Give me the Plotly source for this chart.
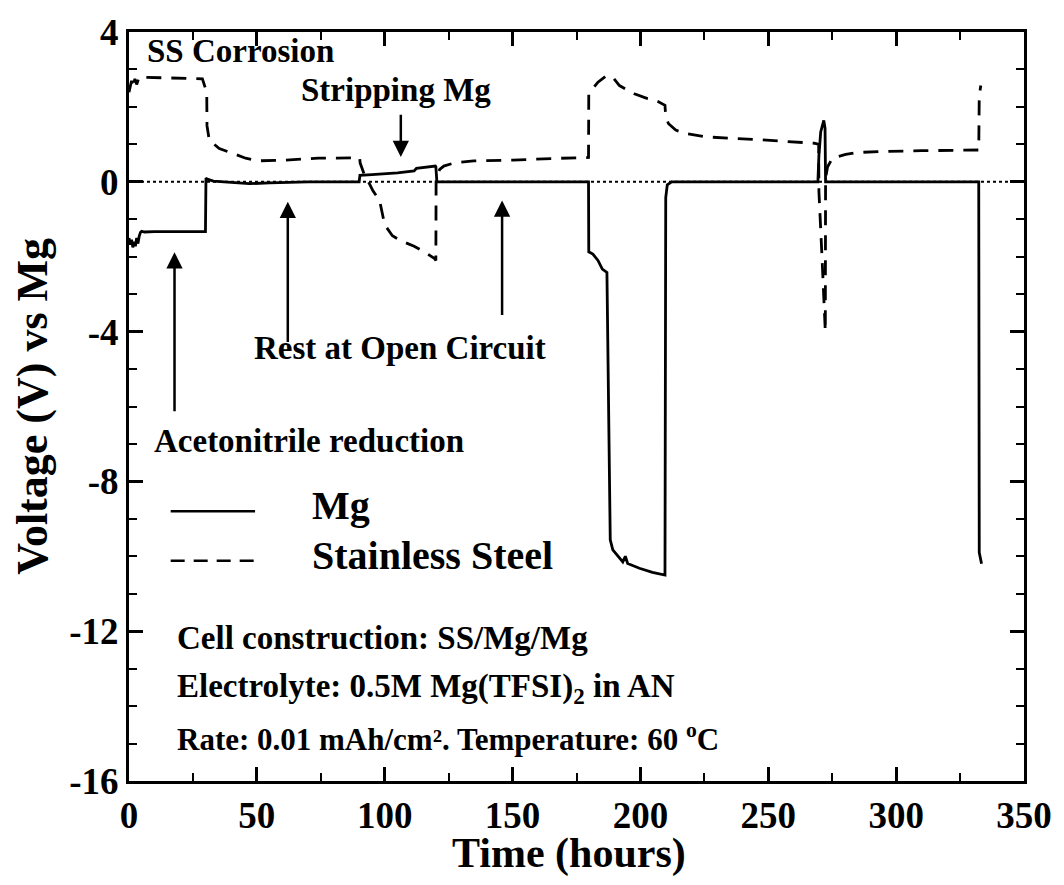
import plotly.graph_objects as go

# Time (hours) and voltage (V vs Mg) for the Mg electrode
mg_time = [0, 0.5, 1.0, 1.5, 2.0, 2.5, 3.0, 3.5, 4.0, 4.5, 5.0, 6.0, 10, 20, 29.9,
           30.1, 30.6, 33, 40, 47, 55, 70, 90.0,
           90.3, 95, 100, 105, 111.5, 112.4, 119.8, 120.0, 120.4, 150, 179.7,
           179.8, 181.4, 183.4, 185.1, 186.9, 187.3, 187.9, 188.2, 189.2, 191.8,
           193.1, 194.1, 195.0, 199.6, 204.7, 209.6, 209.9, 210.5, 212.2, 240,
           269.4, 269.8, 270.5, 271.7, 272.2, 272.4, 300, 332.3, 332.5, 333.4]
mg_volt = [-1.5, -1.68, -1.55, -1.75, -1.6, -1.72, -1.5, -1.65, -1.45, -1.35, -1.32, -1.34, -1.33, -1.33, -1.33,
           0.1, 0.07, 0.02, -0.02, -0.05, -0.03, 0.0, 0.0,
           0.17, 0.19, 0.21, 0.24, 0.29, 0.36, 0.42, 0.4, 0.0, 0.0, 0.0,
           -1.87, -1.93, -2.1, -2.33, -2.42, -4.85, -8.37, -9.56, -9.83, -10.06,
           -10.15, -10.0, -10.19, -10.32, -10.43, -10.5, -0.42, -0.08, 0.0, 0.0,
           0.0, 0.7, 1.33, 1.64, 1.43, 0.0, 0.0, 0.0, -9.9, -10.2]

# Time (hours) and voltage (V vs Mg) for the stainless steel electrode
ss_time = [0, 0.5, 1.0, 1.5, 2.3, 3.0, 4.0, 6.2, 15, 28.7, 30.4, 30.5, 31.4, 35.3, 40.5,
           45.6, 50.8, 61.2, 74.1, 90.2, 90.4, 92, 94, 95.4, 98, 99.2, 100, 103,
           106.2, 111.5, 115, 119.5, 120.0, 120.1, 121.5, 123.1, 127, 134.8, 150,
           165, 179.7, 179.8, 183.4, 186.6, 189.2, 191.8, 195.0, 197.6, 202.8,
           206.7, 209.6, 209.9, 211, 213.8, 217.7, 225.4, 245, 260, 268, 269.7,
           269.8, 271.0, 272.3, 272.4, 273.2, 275.1, 280.3, 284.2, 290.1, 294,
           310, 332.3, 332.5, 333.1]
ss_volt = [2.39, 2.55, 2.7, 2.5, 2.75, 2.6, 2.8, 2.79, 2.78, 2.75, 2.39, 1.5, 1.11, 0.89, 0.76,
           0.63, 0.56, 0.58, 0.63, 0.64, 0.5, 0.2, -0.05, -0.24, -0.5, -0.95, -1.15, -1.44,
           -1.57, -1.72, -1.85, -2.05, -2.1, 0.1, 0.33, 0.42, 0.5, 0.56, 0.58,
           0.62, 0.65, 2.35, 2.66, 2.83, 2.79, 2.57, 2.44, 2.35, 2.22,
           2.15, 2.04, 1.73, 1.55, 1.38, 1.29, 1.2, 1.13, 1.07, 1.03, 1.0,
           -0.26, -2.0, -4.0, 0.1, 0.4, 0.63, 0.73, 0.78, 0.8, 0.81,
           0.83, 0.85, 2.3, 2.57]

series_names = ["Mg", "Stainless Steel"]

x_ticks = [0, 50, 100, 150, 200, 250, 300, 350]
y_ticks = [4, 0, -4, -8, -12, -16]
y_tick_text = [str(v) for v in y_ticks]  # plain hyphen for negatives

FONT = "Liberation Serif"
INK = "black"

fig = go.Figure()

# Zero-volt reference
fig.add_hline(y=0, line=dict(color=INK, width=2, dash="dot"), layer="below")

fig.add_trace(go.Scatter(x=mg_time, y=mg_volt, mode="lines", name=series_names[0],
                         line=dict(color=INK, width=2.8), showlegend=False))
fig.add_trace(go.Scatter(x=ss_time, y=ss_volt, mode="lines", name=series_names[1],
                         line=dict(color=INK, width=2.8, dash="15px,10px"), showlegend=False))

axis_common = dict(
    showgrid=False, zeroline=False, showline=True, linecolor=INK, linewidth=3,
    mirror="allticks", ticks="inside", ticklen=14, tickwidth=2.5, tickcolor=INK,
    tickfont=dict(family=FONT, size=37, color=INK, weight="bold"),
)

fig.update_xaxes(range=[0, 350], tickvals=x_ticks, **axis_common,
                 minor=dict(ticks="inside", ticklen=8, tickwidth=2, dtick=25, tickcolor=INK))
fig.update_yaxes(range=[-16, 4], tickvals=y_ticks, ticktext=y_tick_text, **axis_common,
                 minor=dict(ticks="inside", ticklen=8, tickwidth=2, dtick=1, tickcolor=INK))

# Axis titles
fig.add_annotation(x=0.492, y=-0.097, xref="paper", yref="paper", text="Time (hours)",
                   showarrow=False, xanchor="center", yanchor="middle", borderpad=0,
                   font=dict(family=FONT, size=42, color=INK, weight="bold"))
fig.add_annotation(x=-0.108, y=0.5, xref="paper", yref="paper", text="Voltage (V) vs Mg",
                   showarrow=False, xanchor="center", yanchor="middle", textangle=-90,
                   font=dict(family=FONT, size=44, color=INK, weight="bold"))


def label(x, y, text, size=33, xanchor="left"):
    fig.add_annotation(x=x, y=y, xref="x", yref="y", text=text, showarrow=False,
                       xanchor=xanchor, yanchor="middle",
                       font=dict(family=FONT, size=size, color=INK, weight="bold"))


def arrow(x, y_tail, y_tip):
    fig.add_annotation(x=x, y=y_tip, ax=x, ay=y_tail, xref="x", yref="y",
                       axref="x", ayref="y", text="", showarrow=True,
                       arrowhead=2, arrowsize=1.3, arrowwidth=2.5, arrowcolor=INK)


label(6.2, 3.5, "SS Corrosion", 33)
label(104.4, 2.45, "Stripping Mg", 33, xanchor="center")
label(8.9, -6.91, "Acetonitrile reduction", 33)
label(48.1, -4.45, "Rest at Open Circuit", 33)

arrow(106.3, 1.83, 0.66)
arrow(17.8, -6.17, -1.88)
arrow(62.1, -4.32, -0.53)
arrow(145.9, -3.6, -0.5)

# Legend drawn as line samples with labels
leg_x0, leg_x1, leg_tx = 16.3, 49.3, 70.6
for y, name, dash in [(-8.8, series_names[0], "solid"), (-10.12, series_names[1], "14px,9px")]:
    fig.add_shape(type="line", xref="x", yref="y", x0=leg_x0, x1=leg_x1, y0=y, y1=y,
                  line=dict(color=INK, width=2.5, dash=dash))
    label(leg_tx, y + 0.15, name, 40)

label(17.8, -12.19, "Cell construction: SS/Mg/Mg", 33)
label(17.8, -13.54, "Electrolyte: 0.5M Mg(TFSI)<sub>2</sub> in AN", 33)
label(17.8, -14.85, "Rate: 0.01 mAh/cm². Temperature: 60 <sup>o</sup>C", 31)

fig.update_layout(
    width=1064, height=885,
    margin=dict(l=129, r=33, t=26, b=104),
    paper_bgcolor="white", plot_bgcolor="white",
    font=dict(family=FONT, color=INK, weight="bold"),
    showlegend=False,
)

fig.write_html("out.html")
